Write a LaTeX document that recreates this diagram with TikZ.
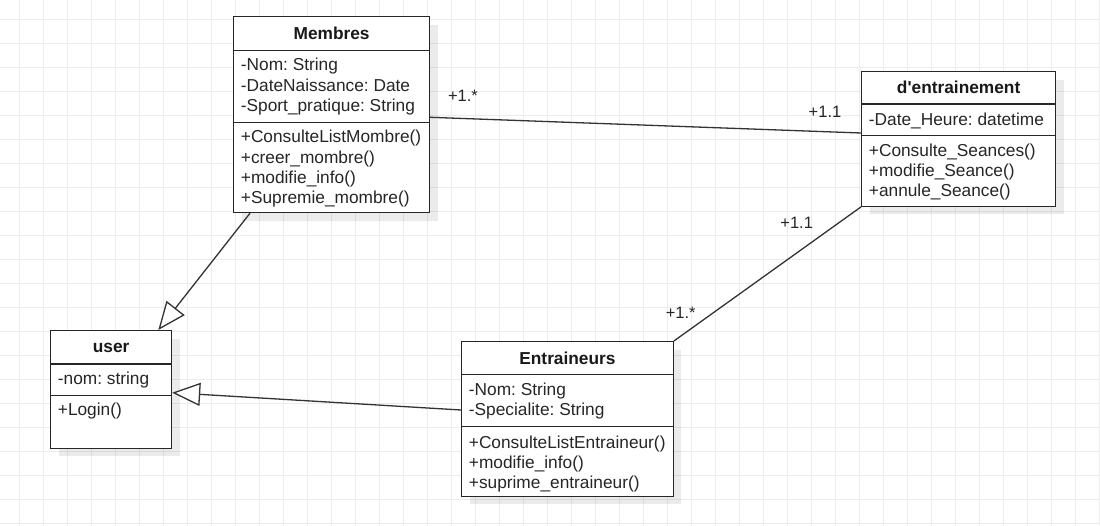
\documentclass[tikz,border=0pt]{standalone}
\usepackage{fontspec}
\setmainfont{Liberation Sans}
\frenchspacing
\usetikzlibrary{arrows.meta,calc,shadows}
\newcommand\clsfont{\fontsize{17.3}{20.5}\selectfont\frenchspacing}
\newcommand\lblfont{\fontsize{16.5}{19}\selectfont}
\tikzset{
  umlbox/.style={draw=black!85, line width=1.2pt, fill=white, rectangle, inner sep=0pt, anchor=north west,
    drop shadow={shadow xshift=8pt, shadow yshift=-8pt, opacity=0.08, fill=black}},
  divider/.style={draw=black!85, line width=1.2pt},
  member/.style={anchor=base west, inner sep=0pt, font=\clsfont, text=black!85},
  title/.style={anchor=base, inner sep=0pt, font=\clsfont\bfseries, text=black!90},
  mult/.style={anchor=base, inner sep=0pt, font=\lblfont, text=black!85},
  assoc/.style={draw=black!80, line width=1.3pt},
  inherit/.style={draw=black!80, line width=1.3pt, -{Triangle[open, fill=white, length=28pt, width=23pt]}},
  gridline/.style={draw=gray!15, line width=1pt}
}
\begin{document}
\begin{tikzpicture}[x=1pt, y=-1pt]
\useasboundingbox (0,0) rectangle (1100,526);
\fill[white] (0,0) rectangle (1100,526);
\foreach \gx in {19.5,43.5,...,1100} {\draw[gridline] (\gx,0) -- (\gx,526);}
\foreach \gy in {19.5,43.5,...,526} {\draw[gridline] (0,\gy) -- (1100,\gy);}

% Membres
\node[umlbox, minimum width=196pt, minimum height=196pt] (membres) at (233,16) {};
\draw[divider] ($(membres.north west)+(0,34.7)$) -- ($(membres.north east)+(0,34.7)$);
\draw[divider] ($(membres.north west)+(0,106.3)$) -- ($(membres.north east)+(0,106.3)$);
\node[title] (membresT) at ($(membres.north)+(0,23.5)$) {Membres};
\node[member] (ma1) at ($(membres.north west)+(7.7,55)$) {-Nom: String};
\node[member] (ma2) at ($(membres.north west)+(7.7,75.5)$) {-DateNaissance: Date};
\node[member] (ma3) at ($(membres.north west)+(7.7,96)$) {-Sport\_pratique: String};
\node[member] (mm1) at ($(membres.north west)+(7.7,127)$) {+ConsulteListMombre()};
\node[member] (mm2) at ($(membres.north west)+(7.7,147.3)$) {+creer\_mombre()};
\node[member] (mm3) at ($(membres.north west)+(7.7,167.6)$) {+modifie\_info()};
\node[member] (mm4) at ($(membres.north west)+(7.7,187.5)$) {+Supremie\_mombre()};

% d'entrainement
\node[umlbox, minimum width=194pt, minimum height=134.7pt] (dent) at (861,71) {};
\draw[divider] ($(dent.north west)+(0,33)$) -- ($(dent.north east)+(0,33)$);
\draw[divider] ($(dent.north west)+(0,64.7)$) -- ($(dent.north east)+(0,64.7)$);
\node[title] (dentT) at ($(dent.north)+(0,22.9)$) {d\textquotesingle entrainement};
\node[member] (da1) at ($(dent.north west)+(7.7,54.2)$) {-Date\_Heure: datetime};
\node[member] (dm1) at ($(dent.north west)+(7.7,85.2)$) {+Consulte\_Seances()};
\node[member] (dm2) at ($(dent.north west)+(7.7,105.2)$) {+modifie\_Seance()};
\node[member] (dm3) at ($(dent.north west)+(7.7,125.2)$) {+annule\_Seance()};

% user
\node[umlbox, minimum width=121pt, minimum height=117.7pt] (user) at (50,330) {};
\draw[divider] ($(user.north west)+(0,34)$) -- ($(user.north east)+(0,34)$);
\draw[divider] ($(user.north west)+(0,65.3)$) -- ($(user.north east)+(0,65.3)$);
\node[title] (userT) at ($(user.north)+(0,23)$) {user};
\node[member] (ua1) at ($(user.north west)+(7.7,54.2)$) {-nom: string};
\node[member] (um1) at ($(user.north west)+(7.7,85.2)$) {+Login()};

% Entraineurs
\node[umlbox, minimum width=211.7pt, minimum height=154.7pt] (entr) at (461,341) {};
\draw[divider] ($(entr.north west)+(0,33.3)$) -- ($(entr.north east)+(0,33.3)$);
\draw[divider] ($(entr.north west)+(0,85.7)$) -- ($(entr.north east)+(0,85.7)$);
\node[title] (entrT) at ($(entr.north)+(0,23.5)$) {Entraineurs};
\node[member] (ea1) at ($(entr.north west)+(7.7,54.5)$) {-Nom: String};
\node[member] (ea2) at ($(entr.north west)+(7.7,74.2)$) {-Specialite: String};
\node[member] (em1) at ($(entr.north west)+(7.7,107)$) {+ConsulteListEntraineur()};
\node[member] (em2) at ($(entr.north west)+(7.7,127)$) {+modifie\_info()};
\node[member] (em3) at ($(entr.north west)+(7.7,147)$) {+suprime\_entraineur()};

% connectors
\draw[inherit] ($(membres.south west)+(17,0)$) -- ($(user.north west)+(108.3,0)$);
\draw[inherit] ($(entr.north west)+(0,69)$) -- ($(user.north east)+(0,62.7)$);
\draw[assoc] ($(membres.north east)+(0,101.3)$) -- ($(dent.north west)+(0,62)$);
\draw[assoc] (entr.north east) -- (dent.south west);

% multiplicities
\node[mult] (l1) at (463,101.7) {+1.*};
\node[mult] (l2) at (825,117.4) {+1.1};
\node[mult] (l3) at (796.7,228.4) {+1.1};
\node[mult] (l4) at (680.7,318.4) {+1.*};
\end{tikzpicture}
\end{document}
